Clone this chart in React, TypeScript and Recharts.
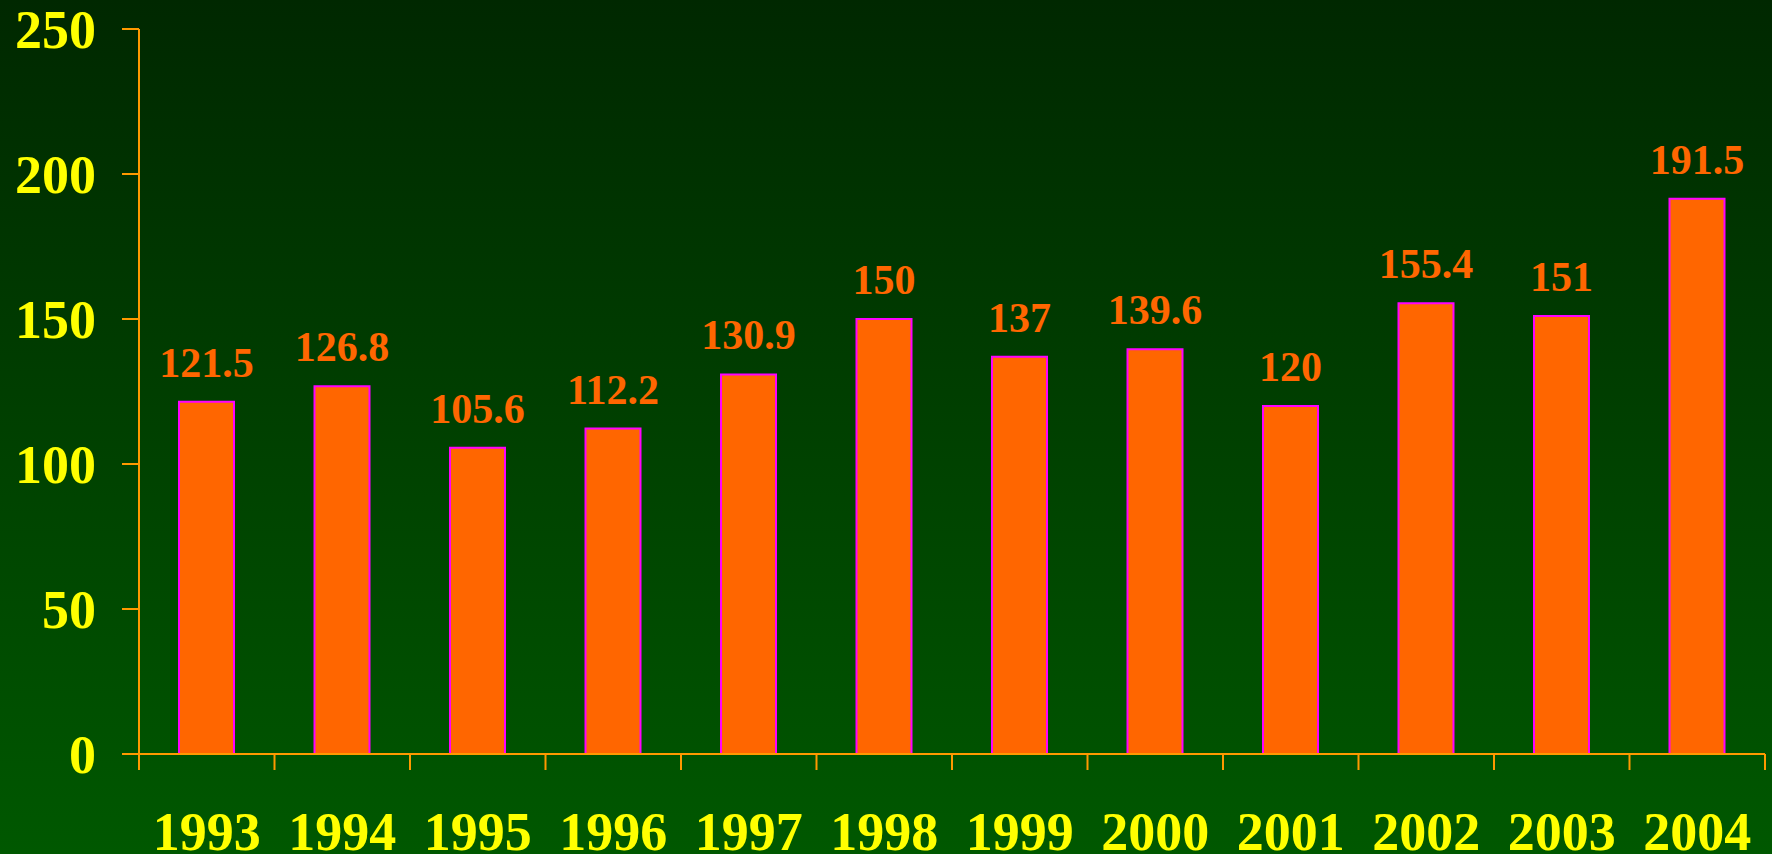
import React from 'react';
import { BarChart, Bar, XAxis, YAxis, LabelList } from 'recharts';

const years = ['1993', '1994', '1995', '1996', '1997', '1998', '1999', '2000', '2001', '2002', '2003', '2004'];
const values = [121.5, 126.8, 105.6, 112.2, 130.9, 150, 137, 139.6, 120, 155.4, 151, 191.5];
const yTicks = [0, 50, 100, 150, 200, 250];

const data = years.map((year, i) => ({ year, value: values[i] }));

const ORANGE_AXIS = '#FF9900';
const FONT = '"Liberation Serif", "Times New Roman", serif';
const X_TICK_MARGIN = 58;
const X_TICK_LEN = 16;

const YearTick = (props: any) => {
  const { x, y, payload, index, visibleTicksCount } = props;
  const half = payload && typeof payload.offset === 'number' ? payload.offset : 0;
  const axisY = y - X_TICK_MARGIN;
  const isLast = index === visibleTicksCount - 1;
  return (
    <g>
      <line x1={x - half} x2={x - half} y1={axisY} y2={axisY + X_TICK_LEN} stroke={ORANGE_AXIS} strokeWidth={2} />
      {isLast && (
        <line x1={x + half} x2={x + half} y1={axisY} y2={axisY + X_TICK_LEN} stroke={ORANGE_AXIS} strokeWidth={2} />
      )}
      <text
        x={x}
        y={y}
        dy="0.71em"
        textAnchor="middle"
        fill="#FFFF00"
        style={{ fontSize: 54, fontWeight: 'bold', fontFamily: FONT }}
      >
        {payload.value}
      </text>
    </g>
  );
};

export default function App() {
  return (
    <div
      style={{
        position: 'fixed',
        left: 0,
        top: 0,
        width: 1772,
        height: 854,
        background: 'linear-gradient(to bottom, #002800 0%, #005800 100%)',
      }}
    >
      <BarChart
        width={1772}
        height={854}
        data={data}
        margin={{ top: 29, right: 7, bottom: 0, left: 0 }}
        barCategoryGap="0%"
      >
        <XAxis
          dataKey="year"
          height={100}
          axisLine={{ stroke: ORANGE_AXIS, strokeWidth: 2 }}
          tickLine={false}
          tickSize={0}
          tickMargin={X_TICK_MARGIN}
          interval={0}
          tick={<YearTick />}
        />
        <YAxis
          width={139}
          domain={[0, 250]}
          ticks={yTicks}
          interval={0}
          tickSize={17}
          tickMargin={26}
          axisLine={{ stroke: ORANGE_AXIS, strokeWidth: 2 }}
          tickLine={{ stroke: ORANGE_AXIS, strokeWidth: 2 }}
          tick={{ fill: '#FFFF00', fontSize: 54, fontWeight: 'bold', fontFamily: FONT }}
        />
        <Bar
          dataKey="value"
          fill="#FF6600"
          stroke="#FF00FF"
          strokeWidth={2}
          barSize={55}
          isAnimationActive={false}
        >
          <LabelList
            dataKey="value"
            position="top"
            offset={25}
            fill="#FF6600"
            style={{ fontSize: 42, fontWeight: 'bold', fontFamily: FONT }}
          />
        </Bar>
      </BarChart>
    </div>
  );
}
